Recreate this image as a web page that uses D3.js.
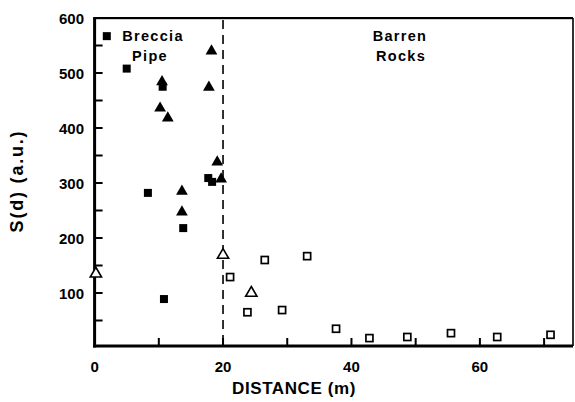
<!DOCTYPE html>
<html><head><meta charset="utf-8">
<script src="https://cdn.jsdelivr.net/npm/d3@7/dist/d3.min.js"></script>
<style>body{margin:0;background:#fff}svg{display:block}text{font-family:"Liberation Sans",Arial,Helvetica,sans-serif;fill:#000}</style>
</head><body><svg id="c" width="575" height="402"></svg>
<script>
// Data (distance m, S(d) a.u.)
const brecciaSquares = [[1.9,567],[5.0,508],[10.6,475],[8.3,282],[13.8,218],[10.8,89],[17.7,309],[18.3,302]];
const brecciaTriangles = [[18.2,540],[10.5,484],[17.8,474],[10.2,436],[11.4,418],[19.1,338],[19.7,307],[13.6,285],[13.6,247]];
const openTriangles = [[0.2,135],[20.0,169],[24.4,100]];
const openSquares = [[21.1,129],[23.8,65],[26.5,160],[29.2,69],[33.1,167],[37.6,35],[42.8,18],[48.7,20],[55.5,27],[62.7,20],[71.0,24]];
const xTickValues = [10,20,30,40,50,60,70];
const xTickLabels = [0,20,40,60];
const yTickValues = [50,100,150,200,250,300,350,400,450,500,550];
const yTickLabels = [100,200,300,400,500,600];
const boundary = 20;

const svg = d3.select("#c");
const L=94.6, R=573, T=18, B=346;
const x = d3.scaleLinear().domain([0,74.5]).range([L,R]);
const y = d3.scaleLinear().domain([0,600]).range([348,T]);
// Frame
svg.append("rect").attr("x",L).attr("y",T-1).attr("width",R-L).attr("height",2.2).attr("fill","#000");
svg.append("rect").attr("x",R-0.8).attr("y",T).attr("width",1.6).attr("height",B-T).attr("fill","#000");
svg.append("rect").attr("x",L-1.5).attr("y",B-1.5).attr("width",R-L+1.5).attr("height",3).attr("fill","#000");
svg.append("rect").attr("x",L-1.5).attr("y",T-1).attr("width",3).attr("height",B-T+2.5).attr("fill","#000");
// inward ticks (drawn as small filled bars)
svg.selectAll("rect.xt").data(xTickValues).enter().append("rect").attr("class","xt")
  .attr("x",d=>x(d)-1).attr("y",B-8).attr("width",2).attr("height",8).attr("fill","#000");
svg.selectAll("rect.yt").data(yTickValues).enter().append("rect").attr("class","yt")
  .attr("x",L).attr("y",d=>y(d)-1).attr("width",8).attr("height",2).attr("fill","#000");
// labels
svg.selectAll("text.xl").data(xTickLabels).enter().append("text").attr("class","xl").attr("x",d=>x(d)).attr("y",372)
  .attr("text-anchor","middle").attr("font-size",15).attr("font-weight","bold").text(d=>d);
svg.selectAll("text.yl").data(yTickLabels).enter().append("text").attr("class","yl").attr("x",84).attr("y",d=>y(d)+5.5)
  .attr("text-anchor","end").attr("font-size",15).attr("font-weight","bold").text(d=>d);
svg.append("text").attr("x",294).attr("y",394).attr("text-anchor","middle").attr("font-size",17).attr("font-weight","bold").attr("letter-spacing",0.6).text("DISTANCE (m)");
svg.append("text").attr("transform","translate(23,181) rotate(-90)").attr("text-anchor","middle").attr("font-size",18).attr("font-weight","bold").attr("letter-spacing",1.8).text("S(d) (a.u.)");
// dashed boundary
svg.append("line").attr("x1",x(boundary)).attr("x2",x(boundary)).attr("y1",T+2).attr("y2",B)
  .attr("stroke","#000").attr("stroke-width",1.6).attr("stroke-dasharray","9,6");
// region labels
[["Breccia",153,41],["Pipe",150,61],["Barren",400,41],["Rocks",401,61]].forEach(([t,cx,cy])=>{
  svg.append("text").attr("x",cx).attr("y",cy).attr("text-anchor","middle").attr("font-size",14.5).attr("font-weight","bold").attr("letter-spacing",1.3).text(t);
});
// markers
const tri = d3.symbol().type(d3.symbolTriangle);
svg.selectAll("rect.fs").data(brecciaSquares).enter().append("rect").attr("class","fs")
  .attr("x",d=>x(d[0])-4).attr("y",d=>y(d[1])-4).attr("width",8).attr("height",8).attr("fill","#000");
svg.selectAll("path.ft").data(brecciaTriangles).enter().append("path").attr("class","ft")
  .attr("d",tri.size(60)).attr("transform",d=>`translate(${x(d[0])},${y(d[1])})`).attr("fill","#000");
svg.selectAll("path.ot").data(openTriangles).enter().append("path").attr("class","ot")
  .attr("d",tri.size(55)).attr("transform",d=>`translate(${x(d[0])},${y(d[1])})`).attr("fill","#fff").attr("stroke","#000").attr("stroke-width",1.6);
svg.selectAll("rect.os").data(openSquares).enter().append("rect").attr("class","os")
  .attr("x",d=>x(d[0])-3.5).attr("y",d=>y(d[1])-3.5).attr("width",7).attr("height",7).attr("fill","#fff").attr("stroke","#000").attr("stroke-width",1.7);
</script></body></html>
